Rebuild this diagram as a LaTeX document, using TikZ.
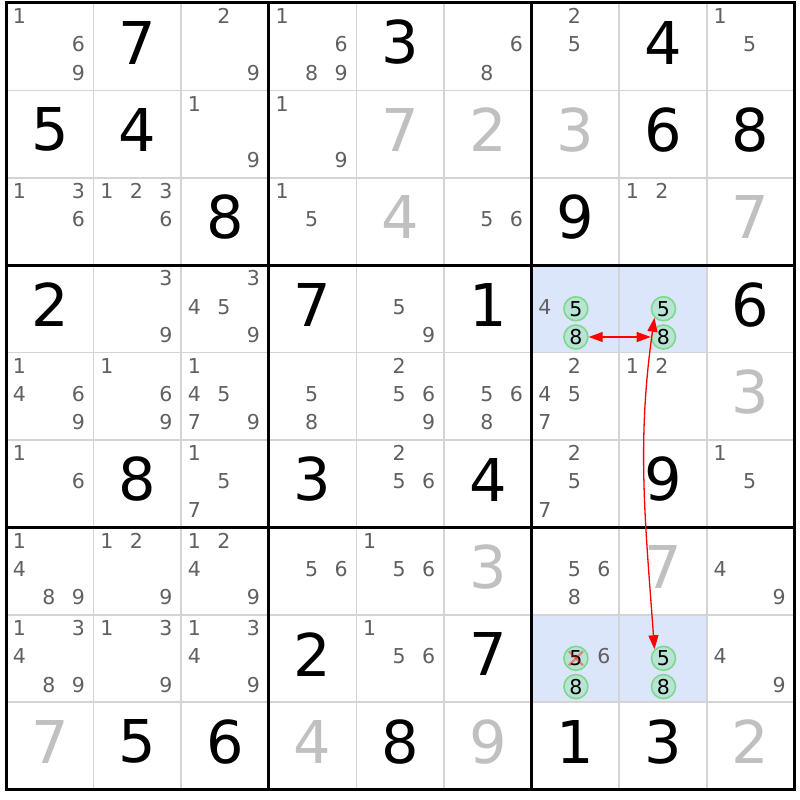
\documentclass[tikz,border=0pt]{standalone}
\usepackage{fontspec}
\setmainfont{DejaVu Sans}
\usetikzlibrary{arrows.meta}

\definecolor{candgrey}{RGB}{96,96,96}
\definecolor{solvedgrey}{RGB}{192,192,192}
\definecolor{thinline}{RGB}{212,212,212}
\definecolor{pairblue}{RGB}{220,230,250}
\definecolor{pickfill}{RGB}{184,228,214}
\definecolor{pickline}{RGB}{126,216,140}

% cell size
\def\cw{87.6}
\def\ch{87.4}

% position of candidate #3 in cell (#1,#2)
\newcommand{\candpos}[3]{%
  \pgfmathsetmacro{\cx}{6+#2*\cw+42.8+(mod(#3-1,3)-1)*29.5}%
  \pgfmathsetmacro{\cy}{3+#1*\ch+41.5+(int((#3-1)/3)-1)*28.3}%
}
% candidates of a cell
\newcommand{\cands}[3]{%
  \foreach \d in {#3}{%
    \candpos{#1}{#2}{\d}%
    \node[cand] (r#1c#2n\d) at (\cx,\cy) {\d};
  }%
}

\begin{document}
\begin{tikzpicture}[x=1pt,y=1pt,yscale=-1,
  given/.style={inner sep=0pt,font=\fontsize{59}{59}\selectfont},
  solved/.style={given,text=solvedgrey},
  cand/.style={inner sep=0pt,text=candgrey,font=\fontsize{20.5}{20.5}\selectfont},
  pick/.style={circle,draw=pickline,fill=pickfill,line width=1.6pt,minimum size=24pt,inner sep=0pt,font=\fontsize{20.5}{20.5}\selectfont},
  link/.style={red,line width=1.3pt,{Triangle[length=14pt,width=10pt]}-{Triangle[length=14pt,width=10pt]}},
  cross/.style={red,opacity=0.4,line width=2.2pt}]
\useasboundingbox [fill=white] (0,0) rectangle (800,800);

%Shape: Rectangle (pair cells)
\foreach \r/\c in {3/6,3/7,7/6,7/7}
  \fill [pairblue] ({6+\c*\cw},{3+\r*\ch}) rectangle ({6+(\c+1)*\cw},{3+(\r+1)*\ch});

%Straight Lines (thin)
\foreach \i in {1,2,4,5,7,8}{
  \draw [thinline,line width=1.5pt] ({6+\i*\cw},3) -- ({6+\i*\cw},{3+9*\ch});
  \draw [thinline,line width=1.5pt] (6,{3+\i*\ch}) -- ({6+9*\cw},{3+\i*\ch});
}
%Straight Lines (boxes)
\foreach \i in {0,3,6,9}{
  \draw [line width=3pt] ({6+\i*\cw},1.5) -- ({6+\i*\cw},{4.5+9*\ch});
  \draw [line width=3pt] (4.5,{3+\i*\ch}) -- ({7.5+9*\cw},{3+\i*\ch});
}

% Text Node (givens)
\foreach \r/\c/\d in {0/1/7,0/4/3,0/7/4,1/0/5,1/1/4,1/7/6,1/8/8,2/2/8,2/6/9,
  3/0/2,3/3/7,3/5/1,3/8/6,5/1/8,5/3/3,5/5/4,5/7/9,7/3/2,7/5/7,
  8/1/5,8/2/6,8/4/8,8/6/1,8/7/3}
  \node [given] (g\r\c) at ({6+(\c+0.5)*\cw},{3+\r*\ch+39.5}) {\d};
% Text Node (solved)
\foreach \r/\c/\d in {1/4/7,1/5/2,1/6/3,2/4/4,2/8/7,4/8/3,6/5/3,6/7/7,
  8/0/7,8/3/4,8/5/9,8/8/2}
  \node [solved] (g\r\c) at ({6+(\c+0.5)*\cw},{3+\r*\ch+39.5}) {\d};

% Text Node (candidates)
\cands{0}{0}{1,6,9}
\cands{0}{2}{2,9}
\cands{0}{3}{1,6,8,9}
\cands{0}{5}{6,8}
\cands{0}{6}{2,5}
\cands{0}{8}{1,5}
\cands{1}{2}{1,9}
\cands{1}{3}{1,9}
\cands{2}{0}{1,3,6}
\cands{2}{1}{1,2,3,6}
\cands{2}{3}{1,5}
\cands{2}{5}{5,6}
\cands{2}{7}{1,2}
\cands{3}{1}{3,9}
\cands{3}{2}{3,4,5,9}
\cands{3}{4}{5,9}
\cands{3}{6}{4}
\cands{4}{0}{1,4,6,9}
\cands{4}{1}{1,6,9}
\cands{4}{2}{1,4,5,7,9}
\cands{4}{3}{5,8}
\cands{4}{4}{2,5,6,9}
\cands{4}{5}{5,6,8}
\cands{4}{6}{2,4,5,7}
\cands{4}{7}{1,2}
\cands{5}{0}{1,6}
\cands{5}{2}{1,5,7}
\cands{5}{4}{2,5,6}
\cands{5}{6}{2,5,7}
\cands{5}{8}{1,5}
\cands{6}{0}{1,4,8,9}
\cands{6}{1}{1,2,9}
\cands{6}{2}{1,2,4,9}
\cands{6}{3}{5,6}
\cands{6}{4}{1,5,6}
\cands{6}{6}{5,6,8}
\cands{6}{8}{4,9}
\cands{7}{0}{1,3,4,8,9}
\cands{7}{1}{1,3,9}
\cands{7}{2}{1,3,4,9}
\cands{7}{4}{1,5,6}
\cands{7}{6}{6}
\cands{7}{8}{4,9}

%Shape: Circle (picked candidates)
\candpos{3}{6}{5}\node [pick] (r3c6n5) at (\cx+1.5,\cy+2) {5};
\candpos{3}{6}{8}\node [pick] (r3c6n8) at (\cx+1.5,\cy+2) {8};
\candpos{3}{7}{5}\node [pick] (r3c7n5) at (\cx+1.5,\cy+2) {5};
\candpos{3}{7}{8}\node [pick] (r3c7n8) at (\cx+1.5,\cy+2) {8};
\candpos{7}{6}{5}\node [pick] (r7c6n5) at (\cx+1.5,\cy+2) {5};
\candpos{7}{6}{8}\node [pick] (r7c6n8) at (\cx+1.5,\cy+2) {8};
\candpos{7}{7}{5}\node [pick] (r7c7n5) at (\cx+1.5,\cy+2) {5};
\candpos{7}{7}{8}\node [pick] (r7c7n8) at (\cx+1.5,\cy+2) {8};

%Straight Lines (elimination)
\draw [cross] ([shift={(-7,-7)}]r7c6n5.center) -- ([shift={(7,7)}]r7c6n5.center);
\draw [cross] ([shift={(-7,7)}]r7c6n5.center) -- ([shift={(7,-7)}]r7c6n5.center);

%Links
\draw [link] (r3c6n8) -- (r3c7n8);
\draw [link] (r3c7n5.225) .. controls +(-18,125) and +(-9,-125) .. (r7c7n5.135);
\end{tikzpicture}
\end{document}
